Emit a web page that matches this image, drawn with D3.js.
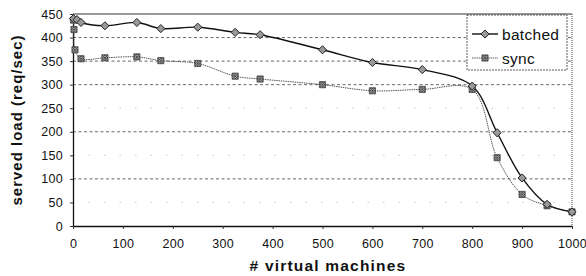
<!DOCTYPE html>
<html>
<head>
<meta charset="utf-8">
<script src="https://cdn.jsdelivr.net/npm/d3@7"></script>
<style>
  body { margin: 0; background: #fff; }
  text { font-family: "Liberation Sans", Arial, sans-serif; fill: #111; }
</style>
</head>
<body>
<script>
// data
var batchedX = [1, 8, 16, 64, 128, 176, 250, 325, 375, 500, 600, 700, 800, 850, 900, 950, 1000];
var batchedY = [440, 438, 432, 425, 432, 419, 422, 411, 406, 374, 347, 332, 297, 198, 102, 46, 30];
var syncX = [1, 2, 4, 16, 64, 128, 176, 250, 325, 375, 500, 600, 700, 800, 850, 900, 950, 1000];
var syncY = [437, 417, 374, 355, 357, 359, 351, 345, 318, 312, 300, 287, 290, 290, 145, 67, 43, 30];
var xTicks = [0, 100, 200, 300, 400, 500, 600, 700, 800, 900, 1000];
var yTicks = [0, 50, 100, 150, 200, 250, 300, 350, 400, 450];

var svg_width = 586;
var svg_height = 276;

var plotLeft = 73, plotRight = 572, plotTop = 14, plotBottom = 226;

var xScale = d3.scaleLinear().domain([0, 1000]).range([plotLeft, plotRight]);
var yScale = d3.scaleLinear().domain([0, 450]).range([plotBottom, plotTop]);

var svg = d3.select('body').append('svg')
  .attr('width', svg_width)
  .attr('height', svg_height);

// hatch pattern for the sync markers
var pat = svg.append('defs').append('pattern')
  .attr('id', 'hatch')
  .attr('patternUnits', 'userSpaceOnUse')
  .attr('width', 2.5).attr('height', 2.5);
pat.append('rect').attr('width', 2.5).attr('height', 2.5).attr('fill', '#aaa');
pat.append('path').attr('d', 'M0,0L2.5,2.5M2.5,0L0,2.5')
  .attr('stroke', '#333').attr('stroke-width', 0.7);

// gridlines (the scan loses most of 250/150/50)
var strong = d => (d % 100 == 0 || d == 350);
svg.append('g').selectAll('line')
  .data(yTicks.filter(d => d > 0 && d < 450))
  .enter().append('line')
  .attr('x1', plotLeft).attr('x2', plotRight)
  .attr('y1', d => yScale(d)).attr('y2', d => yScale(d))
  .attr('stroke', d => strong(d) ? '#444' : '#bbb')
  .attr('stroke-width', 0.8)
  .attr('stroke-dasharray', d => strong(d) ? '3,2.5' : '1.5,14');

// frame: solid top, dotted right
svg.append('line').attr('x1', plotLeft).attr('x2', plotRight).attr('y1', plotTop).attr('y2', plotTop)
  .attr('stroke', '#333').attr('stroke-width', 1);
svg.append('line').attr('x1', plotRight).attr('x2', plotRight).attr('y1', plotTop).attr('y2', plotBottom)
  .attr('stroke', '#444').attr('stroke-width', 1).attr('stroke-dasharray', '1,1');

// axes
var xaxis = d3.axisBottom(xScale).tickValues(xTicks).tickFormat(d3.format('d'))
  .tickSize(3).tickSizeOuter(0).tickPadding(10);
var yaxis = d3.axisLeft(yScale).tickValues(yTicks).tickFormat(d3.format('d'))
  .tickSize(3).tickSizeOuter(0).tickPadding(7);

var gx = svg.append('g')
  .attr('transform', 'translate(0,' + plotBottom + ')')
  .call(xaxis);
var gy = svg.append('g')
  .attr('transform', 'translate(' + plotLeft + ',0)')
  .call(yaxis);

[gx, gy].forEach(function(g) {
  g.select('.domain').attr('stroke', '#111').attr('stroke-width', 1.3);
  g.selectAll('.tick line').attr('stroke', '#333');
  g.selectAll('.tick text').attr('font-size', 12.5).attr('fill', '#111')
    .attr('letter-spacing', 0.3)
    .attr('font-family', '"Liberation Sans", Arial, sans-serif');
});

// lines
var batched = batchedX.map((x, i) => [x, batchedY[i]]);
var sync = syncX.map((x, i) => [x, syncY[i]]);

var line = d3.line()
  .x(d => xScale(d[0]))
  .y(d => yScale(d[1]))
  .curve(d3.curveCatmullRom.alpha(0.5));

svg.append('path').datum(sync)
  .attr('d', line)
  .attr('fill', 'none')
  .attr('stroke', '#555')
  .attr('stroke-width', 1)
  .attr('stroke-dasharray', '1.5,0.8');

svg.append('path').datum(batched)
  .attr('d', line)
  .attr('fill', 'none')
  .attr('stroke', '#111')
  .attr('stroke-width', 1.4);

// markers
var diamond = d3.symbol().type(d3.symbolDiamond2).size(42);
var square = d3.symbol().type(d3.symbolSquare).size(38);

svg.append('g').selectAll('path')
  .data(sync).enter().append('path')
  .attr('d', square)
  .attr('transform', d => 'translate(' + xScale(d[0]) + ',' + yScale(d[1]) + ')')
  .attr('fill', 'url(#hatch)')
  .attr('stroke', '#444')
  .attr('stroke-width', 0.8);

svg.append('g').selectAll('path')
  .data(batched).enter().append('path')
  .attr('d', diamond)
  .attr('transform', d => 'translate(' + xScale(d[0]) + ',' + yScale(d[1]) + ')')
  .attr('fill', '#999')
  .attr('stroke', '#222')
  .attr('stroke-width', 1);

// legend
var legNames = ['batched', 'sync'];
var leg = svg.append('g');
leg.append('rect')
  .attr('x', 467).attr('y', 15).attr('width', 100).attr('height', 55)
  .attr('fill', '#fff').attr('stroke', '#333').attr('stroke-width', 0.8)
  .attr('stroke-dasharray', '2,1');

legNames.forEach(function(name, i) {
  var cy = 34 + i * 24;
  leg.append('line')
    .attr('x1', 472).attr('x2', 498).attr('y1', cy).attr('y2', cy)
    .attr('stroke', i == 0 ? '#111' : '#555')
    .attr('stroke-width', i == 0 ? 1.4 : 1)
    .attr('stroke-dasharray', i == 0 ? null : '1.5,0.8');
  leg.append('path')
    .attr('d', i == 0 ? diamond : square)
    .attr('transform', 'translate(485,' + cy + ')')
    .attr('fill', i == 0 ? '#999' : 'url(#hatch)')
    .attr('stroke', i == 0 ? '#222' : '#444')
    .attr('stroke-width', i == 0 ? 1 : 0.8);
  leg.append('text')
    .attr('x', 502).attr('y', cy + 5.5)
    .attr('font-size', 15.5)
    .attr('letter-spacing', 0.3)
    .text(name);
});

// axis titles
svg.append('text')
  .attr('text-anchor', 'middle')
  .attr('x', 328)
  .attr('y', 271)
  .attr('font-size', 15.5)
  .attr('font-weight', 'bold')
  .attr('letter-spacing', 1.2)
  .text('# virtual machines');

svg.append('text')
  .attr('text-anchor', 'middle')
  .attr('font-size', 15)
  .attr('font-weight', 'bold')
  .attr('letter-spacing', 1)
  .attr('transform', 'translate(22,' + (plotTop + plotBottom) / 2 + ') rotate(-90)')
  .text('served load (req/sec)');
</script>
</body>
</html>
